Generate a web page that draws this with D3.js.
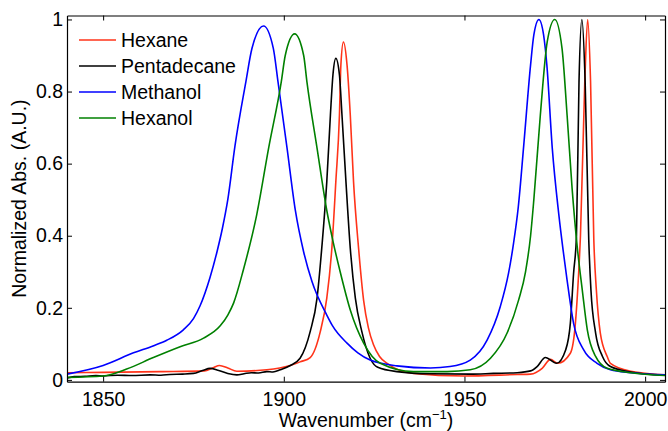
<!DOCTYPE html>
<html>
<head>
<meta charset="utf-8">
<script src="https://cdn.jsdelivr.net/npm/d3@7"></script>
<style>
  body { margin: 0; background: #fff; }
  text { font-family: "Liberation Sans", Arial, Helvetica, sans-serif; fill: #000; }
</style>
</head>
<body>
<div id="chart"></div>
<script>
// Data (wavenumber in cm-1, normalized absorbance)
const hexane = [
  [1840, 0.020], [1850, 0.021], [1865.8, 0.023], [1878, 0.025], [1880.5, 0.034],
  [1882.2, 0.040], [1884.5, 0.033], [1887, 0.024], [1895.3, 0.028], [1901.8, 0.040],
  [1904.5, 0.050], [1907.3, 0.062], [1910.1, 0.134], [1911.9, 0.227], [1913.3, 0.365],
  [1914.4, 0.550], [1915.4, 0.735], [1915.8, 0.874], [1916.5, 0.937], [1917.5, 0.874],
  [1918.4, 0.735], [1919.3, 0.550], [1920.7, 0.365], [1922.1, 0.220], [1923.4, 0.145],
  [1924.8, 0.098], [1926.5, 0.065], [1928.6, 0.046], [1935.9, 0.018], [1949.8, 0.011],
  [1964.6, 0.015], [1968.3, 0.016], [1971.5, 0.032], [1973.8, 0.057], [1975.8, 0.046],
  [1979.3, 0.074], [1980.7, 0.157], [1981.6, 0.296], [1982.1, 0.400], [1983.3, 0.827],
  [1984.1, 1.0], [1984.9, 0.827], [1985.8, 0.388], [1986.5, 0.250], [1987.6, 0.130],
  [1989.5, 0.065], [1990.4, 0.046], [1996, 0.024], [2005.5, 0.014]
];
const pentadecane = [
  [1840, 0.005], [1842, 0.009], [1845, 0.010], [1848, 0.012], [1850, 0.011],
  [1854, 0.013], [1858, 0.012], [1863, 0.014], [1866, 0.013], [1868.5, 0.015],
  [1872, 0.016], [1875, 0.018], [1877.5, 0.026], [1879.6, 0.032], [1882, 0.026],
  [1884.5, 0.018], [1887, 0.014], [1889, 0.017], [1891, 0.020], [1893, 0.019],
  [1895.3, 0.023], [1897, 0.022], [1899, 0.028], [1901.8, 0.040], [1904.5, 0.060],
  [1907.3, 0.134], [1909.2, 0.227], [1910.5, 0.365], [1911.9, 0.550], [1912.9, 0.735],
  [1913.6, 0.846], [1914.4, 0.892], [1915.4, 0.846], [1916.1, 0.735], [1917.2, 0.550],
  [1918.4, 0.365], [1919.8, 0.227], [1921.6, 0.134], [1923.9, 0.060], [1926, 0.035],
  [1931.3, 0.023], [1940.6, 0.017], [1951.6, 0.016], [1958, 0.018], [1964.6, 0.020],
  [1968.3, 0.025], [1970.1, 0.037], [1972.4, 0.062], [1975.5, 0.046], [1978, 0.083],
  [1979.3, 0.157], [1980.2, 0.296], [1981, 0.400], [1981.7, 0.827], [1982.5, 1.0],
  [1983.4, 0.827], [1984.4, 0.388], [1985, 0.250], [1986.3, 0.130], [1988.2, 0.065],
  [1990.4, 0.037], [1996, 0.022], [2005.5, 0.013]
];
const methanol = [
  [1840, 0.016], [1850, 0.040], [1858.4, 0.075], [1864, 0.095], [1867.6, 0.110],
  [1872.2, 0.139], [1875, 0.170], [1876.8, 0.205], [1879.6, 0.285], [1881.5, 0.355],
  [1883, 0.420], [1884.5, 0.500], [1886.5, 0.650], [1889.5, 0.827], [1891.2, 0.920],
  [1894.4, 0.982], [1897.1, 0.920], [1898.4, 0.827], [1900.9, 0.643], [1903.2, 0.470],
  [1905.5, 0.355], [1907.8, 0.273], [1911.9, 0.180], [1913.5, 0.150], [1917.5, 0.102],
  [1920.5, 0.075], [1923.9, 0.055], [1931.3, 0.039], [1940.6, 0.033], [1946, 0.037],
  [1951.6, 0.055], [1956.3, 0.111], [1959.9, 0.203], [1962.2, 0.296], [1963.6, 0.380],
  [1964.9, 0.480], [1966.4, 0.650], [1968.3, 0.874], [1969.2, 0.957], [1970.6, 1.0],
  [1971.9, 0.957], [1972.8, 0.874], [1974.3, 0.643], [1976.1, 0.460], [1977.3, 0.360],
  [1978.4, 0.277], [1980.2, 0.157], [1983, 0.083], [1986.7, 0.046], [1990.4, 0.028],
  [1996, 0.020], [2005.5, 0.014]
];
const hexanol = [
  [1840, 0.007], [1850, 0.011], [1856.5, 0.030], [1863.9, 0.062], [1871.3, 0.092],
  [1877.8, 0.116], [1882.4, 0.150], [1884.5, 0.180], [1886.1, 0.213], [1888.8, 0.305],
  [1892.5, 0.458], [1895.8, 0.643], [1899.3, 0.827], [1900.4, 0.900], [1903.0, 0.960],
  [1905.5, 0.900], [1906.4, 0.827], [1909.2, 0.643], [1911.9, 0.470], [1913.5, 0.390],
  [1915.6, 0.300], [1918.4, 0.194], [1922.1, 0.102], [1926.7, 0.046], [1935.9, 0.023],
  [1945.2, 0.023], [1951.6, 0.028], [1957.2, 0.060], [1961.8, 0.130], [1965, 0.222],
  [1966.9, 0.300], [1968.3, 0.400], [1969.2, 0.500], [1971, 0.735], [1972.9, 0.938],
  [1975, 1.0], [1977, 0.920], [1978.4, 0.735], [1979.8, 0.530], [1981.2, 0.370],
  [1982.6, 0.250], [1984, 0.139], [1986.3, 0.065], [1989.5, 0.032], [1996, 0.020],
  [2005.5, 0.012]
];

const seriesNames = ['Hexane', 'Pentadecane', 'Methanol', 'Hexanol'];
const seriesData = [hexane, pentadecane, methanol, hexanol];
const xTicks = [1850, 1900, 1950, 2000];
const yTicks = [0, 0.2, 0.4, 0.6, 0.8, 1];

// Visual
const width = 668;
const height = 431;
const margin = { top: 15.5, right: 3, bottom: 49.3, left: 67 };
const colors = ['#ff3319', '#000000', '#0000ff', '#008000'];
const fontSize = 19.5;

const innerW = width - margin.left - margin.right;
const innerH = height - margin.top - margin.bottom;

const svg = d3.select('#chart')
  .append('svg')
  .attr('width', width)
  .attr('height', height);

const x = d3.scaleLinear().domain([1840, 2005.5]).range([0, innerW]);
const y = d3.scaleLinear().domain([-0.005, 1.011]).range([innerH, 0]);

const g = svg.append('g').attr('transform', `translate(${margin.left},${margin.top})`);

g.append('clipPath').attr('id', 'clip')
  .append('rect').attr('width', innerW).attr('height', innerH);

const line = d3.line()
  .x(d => x(d[0]))
  .y(d => y(d[1]))
  .curve(d3.curveMonotoneX);

g.append('g').attr('clip-path', 'url(#clip)')
  .selectAll('path')
  .data(seriesData)
  .enter()
  .append('path')
  .attr('d', d => line(d))
  .attr('fill', 'none')
  .attr('stroke', (d, i) => colors[i])
  .attr('stroke-width', 1.6)
  .attr('stroke-linejoin', 'round');

// axes, ticks pointing inward like the original
function styleAxis(sel) {
  sel.select('.domain').attr('stroke', '#000').attr('stroke-width', 1.2);
  sel.selectAll('.tick line').attr('stroke', '#000').attr('stroke-width', 1);
  sel.selectAll('text').style('font-size', fontSize + 'px')
    .style('font-family', '"Liberation Sans", Arial, sans-serif').attr('fill', '#000');
}

g.append('g')
  .attr('transform', `translate(0,${innerH})`)
  .call(d3.axisBottom(x).tickValues(xTicks).tickFormat(d3.format('d'))
    .tickSizeInner(-5).tickSizeOuter(0).tickPadding(10))
  .call(styleAxis);

g.append('g')
  .call(d3.axisTop(x).tickValues(xTicks).tickFormat('')
    .tickSizeInner(-5).tickSizeOuter(0))
  .call(styleAxis);

g.append('g')
  .call(d3.axisLeft(y).tickValues(yTicks).tickFormat(d => d === 0 || d === 1 ? d : d3.format('.1f')(d))
    .tickSizeInner(-5).tickSizeOuter(0).tickPadding(4))
  .call(styleAxis);

g.append('g')
  .attr('transform', `translate(${innerW},0)`)
  .call(d3.axisRight(y).tickValues(yTicks).tickFormat('')
    .tickSizeInner(-5).tickSizeOuter(0))
  .call(styleAxis);

// axis labels
const xl = svg.append('text')
  .attr('x', margin.left + innerW / 2)
  .attr('y', 426.5)
  .attr('text-anchor', 'middle')
  .style('font-size', fontSize + 'px');
xl.append('tspan').text('Wavenumber (cm');
xl.append('tspan').text('\u22121').attr('dy', -8).style('font-size', '13px');
xl.append('tspan').text(')').attr('dy', 8);

svg.append('text')
  .attr('transform', `translate(26,${margin.top + innerH / 2}) rotate(-90)`)
  .attr('text-anchor', 'middle')
  .style('font-size', fontSize + 'px')
  .text('Normalized Abs. (A.U.)');

// legend
const legend = svg.append('g');
seriesNames.forEach((name, i) => {
  const ly = 40 + i * 26;
  legend.append('line')
    .attr('x1', 79).attr('x2', 116)
    .attr('y1', ly).attr('y2', ly)
    .attr('stroke', colors[i]).attr('stroke-width', 1.6);
  legend.append('text')
    .attr('x', 121).attr('y', ly + 7)
    .style('font-size', fontSize + 'px')
    .text(name);
});
</script>
</body>
</html>
